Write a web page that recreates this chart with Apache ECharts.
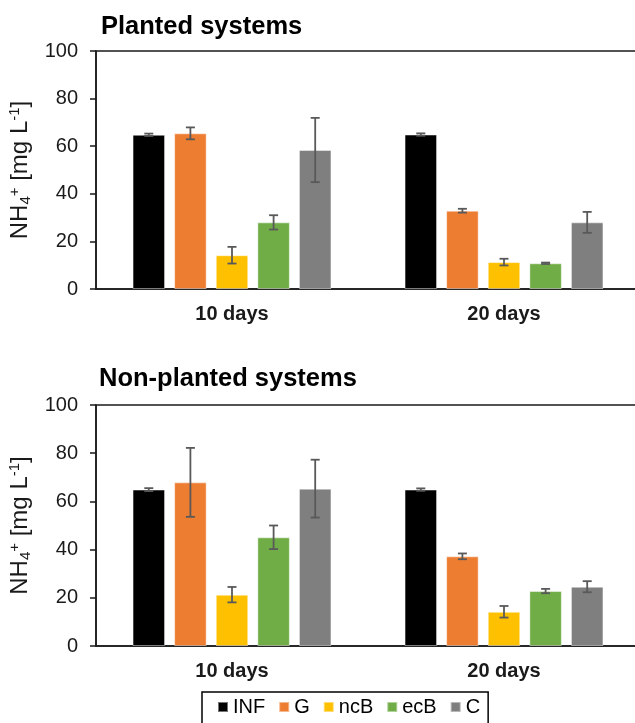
<!DOCTYPE html>
<html>
<head>
<meta charset="utf-8">
<script src="https://cdn.jsdelivr.net/npm/echarts@6/dist/echarts.min.js"></script>
<style>
html,body{margin:0;padding:0;background:#fff;}
#c{width:635px;height:723px;}
</style>
</head>
<body>
<div id="c"></div>
<script>
const categories = ['10 days', '20 days'];
const seriesNames = ['INF', 'G', 'ncB', 'ecB', 'C'];
const seriesColors = ['#000000', '#ED7D31', '#FFC000', '#70AD47', '#7F7F7F'];
const yTicks = [0, 20, 40, 60, 80, 100];

// Planted systems
const plantedINF = [64.8, 64.9];
const plantedG = [65.4, 32.9];
const plantedNcB = [14.2, 11.3];
const plantedEcB = [28.0, 10.8];
const plantedC = [58.4, 28.0];
const plantedINFErr = [0.5, 0.5];
const plantedGErr = [2.5, 0.8];
const plantedNcBErr = [3.5, 1.4];
const plantedEcBErr = [3.0, 0.3];
const plantedCErr = [13.5, 4.4];

// Non-planted systems
const nonPlantedINF = [64.9, 64.9];
const nonPlantedG = [67.9, 37.2];
const nonPlantedNcB = [21.3, 14.2];
const nonPlantedEcB = [45.1, 22.8];
const nonPlantedC = [65.3, 24.6];
const nonPlantedINFErr = [0.6, 0.5];
const nonPlantedGErr = [14.3, 1.2];
const nonPlantedNcBErr = [3.2, 2.4];
const nonPlantedEcBErr = [4.9, 0.9];
const nonPlantedCErr = [12.0, 2.3];

const plantedValues = [plantedINF, plantedG, plantedNcB, plantedEcB, plantedC];
const plantedErrors = [plantedINFErr, plantedGErr, plantedNcBErr, plantedEcBErr, plantedCErr];
const nonPlantedValues = [nonPlantedINF, nonPlantedG, nonPlantedNcB, nonPlantedEcB, nonPlantedC];
const nonPlantedErrors = [nonPlantedINFErr, nonPlantedGErr, nonPlantedNcBErr, nonPlantedEcBErr, nonPlantedCErr];

const FONT = '"Liberation Sans", Arial, sans-serif';
const BAR_W = 32.5;
const BAR_GAP = 0.28;
const STEP = BAR_W * (1 + BAR_GAP);

const chart = echarts.init(document.getElementById('c'), null, {renderer: 'canvas'});

const grids = [
  {left: 96, width: 544, top: 51, height: 238},
  {left: 96, width: 544, top: 405, height: 241}
];

function xAxisFor(gi) {
  return {
    type: 'category', gridIndex: gi, data: categories,
    axisLine: {show: true, lineStyle: {color: '#1a1a1a', width: 1.5}},
    axisTick: {show: false},
    axisLabel: {fontFamily: FONT, fontSize: 20, fontWeight: 'bold', color: '#1a1a1a', margin: 15},
    splitLine: {show: false}
  };
}
function yAxisFor(gi) {
  return {
    type: 'value', gridIndex: gi, min: 0, max: 100, interval: 20,
    axisLine: {show: true, lineStyle: {color: '#1a1a1a', width: 1.5}},
    axisTick: {show: true, length: 6, lineStyle: {color: '#1a1a1a', width: 1.5}},
    axisLabel: {fontFamily: FONT, fontSize: 20, color: '#1a1a1a', margin: 18,
      formatter: function (v) { return yTicks.indexOf(v) >= 0 ? String(v) : ''; }},
    splitLine: {show: false},
    name: '{a|NH}{b|4}{c|+}{a| [mg L}{c|-1}{a|]}',
    nameLocation: 'middle', nameGap: 56, nameRotate: 90,
    nameTextStyle: {
      fontFamily: FONT, color: '#1a1a1a',
      rich: {
        a: {fontFamily: FONT, fontSize: 24, color: '#1a1a1a', lineHeight: 26},
        b: {fontFamily: FONT, fontSize: 15, color: '#1a1a1a', verticalAlign: 'bottom', lineHeight: 24},
        c: {fontFamily: FONT, fontSize: 15, color: '#1a1a1a', verticalAlign: 'top', lineHeight: 22}
      }
    }
  };
}

const series = [];
function addGroup(gi, values, errors) {
  values.forEach(function (vals, si) {
    series.push({
      type: 'bar', name: seriesNames[si], xAxisIndex: gi, yAxisIndex: gi,
      data: vals, barWidth: BAR_W, barGap: (BAR_GAP * 100) + '%',
      itemStyle: {color: seriesColors[si], borderColor: 'rgba(255,255,255,0.45)', borderWidth: 1},
      emphasis: {disabled: true}, z: 2
    });
  });
  values.forEach(function (vals, si) {
    const data = vals.map(function (v, ci) { return [ci, v, errors[si][ci]]; });
    series.push({
      type: 'custom', name: seriesNames[si], xAxisIndex: gi, yAxisIndex: gi,
      data: data, z: 5, silent: true,
      renderItem: function (params, api) {
        const ci = api.value(0), v = api.value(1), e = api.value(2);
        const top = api.coord([ci, v + e]);
        const bot = api.coord([ci, v - e]);
        const x = top[0] + (si - 2) * STEP;
        const cap = 4.5;
        const style = {stroke: '#595959', lineWidth: 1.8};
        return {
          type: 'group',
          children: [
            {type: 'line', shape: {x1: x, y1: top[1], x2: x, y2: bot[1]}, style: style},
            {type: 'line', shape: {x1: x - cap, y1: top[1], x2: x + cap, y2: top[1]}, style: style},
            {type: 'line', shape: {x1: x - cap, y1: bot[1], x2: x + cap, y2: bot[1]}, style: style}
          ]
        };
      }
    });
  });
}
addGroup(0, plantedValues, plantedErrors);
addGroup(1, nonPlantedValues, nonPlantedErrors);

const option = {
  animation: false,
  backgroundColor: '#ffffff',
  title: [
    {text: 'Planted systems', left: 96, top: 9,
      textStyle: {fontFamily: FONT, fontSize: 25.5, fontWeight: 'bold', color: '#000'}},
    {text: 'Non-planted systems', left: 94, top: 361,
      textStyle: {fontFamily: FONT, fontSize: 25.5, fontWeight: 'bold', color: '#000'}}
  ],
  grid: grids.map(function (g) {
    return Object.assign({show: true, borderColor: '#1a1a1a', borderWidth: 1.5, backgroundColor: 'transparent',
      containLabel: false, outerBoundsMode: 'none'}, g);
  }),
  xAxis: [xAxisFor(0), xAxisFor(1)],
  yAxis: [yAxisFor(0), yAxisFor(1)],
  legend: {
    data: seriesNames.map(function (n) { return {name: n, icon: 'rect'}; }),
    left: 202, top: 692,
    itemWidth: 10, itemHeight: 10, itemGap: 13,
    padding: [5, 8, 20, 15],
    borderColor: '#000', borderWidth: 1.5,
    textStyle: {fontFamily: FONT, fontSize: 20, color: '#000'},
    selectedMode: false
  },
  series: series
};
chart.setOption(option);
</script>
</body>
</html>
